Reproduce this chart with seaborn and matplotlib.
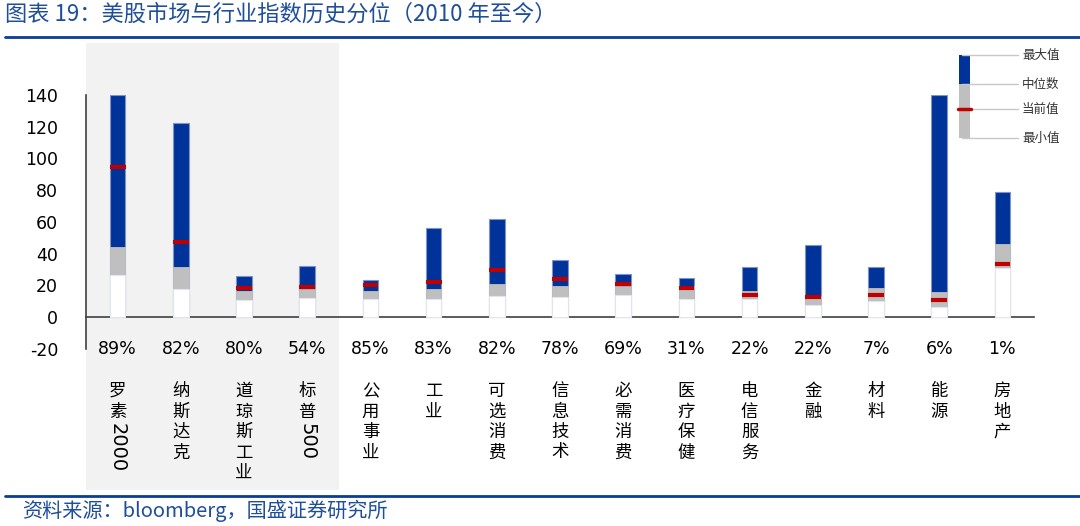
import re
import numpy as np
import pandas as pd
import matplotlib
matplotlib.use("Agg")
import matplotlib.pyplot as plt
import seaborn as sns
from matplotlib.transforms import blended_transform_factory
from matplotlib.patches import Rectangle
from matplotlib.lines import Line2D

# ---------------- data ----------------
categories = ['罗素2000', '纳斯达克', '道琼斯工业', '标普500', '公用事业', '工业', '可选消费',
              '信息技术', '必需消费', '医疗保健', '电信服务', '金融', '材料', '能源', '房地产']
percentiles = ['89%', '82%', '80%', '54%', '85%', '83%', '82%', '78%', '69%', '31%',
               '22%', '22%', '7%', '6%', '1%']
max_vals = [140.3, 122.4, 26.2, 32.1, 23.5, 56.0, 61.9, 36.3, 27.5, 24.9, 31.5, 45.3, 31.5, 140.3, 78.6]
median_vals = [44.0, 31.9, 16.4, 17.6, 16.6, 18.0, 21.0, 19.5, 19.7, 19.9, 16.6, 13.6, 18.6, 15.9, 46.2]
min_vals = [26.6, 18.0, 10.9, 12.4, 11.7, 11.7, 13.4, 12.6, 13.9, 11.7, 11.3, 7.7, 10.5, 6.3, 30.9]
current_vals = [94.5, 47.4, 18.7, 18.9, 20.1, 22.2, 29.8, 23.9, 21.2, 18.2, 14.2, 12.8, 13.9, 10.9, 33.6]
y_ticks = [-20, 0, 20, 40, 60, 80, 100, 120, 140]
legend_labels = ['最大值', '中位数', '当前值', '最小值']
title = '图表 19：美股市场与行业指数历史分位（2010 年至今）'
source = '资料来源：bloomberg，国盛证券研究所'

df = pd.DataFrame({'name': categories, 'max': max_vals, 'median': median_vals,
                   'min': min_vals, 'current': current_vals})

BLUE = '#003399'
GRAY = '#BFBFBF'
RED = '#C00000'
TITLE_BLUE = '#1F4E9A'
LINE_BLUE = '#0A3D96'

sns.set_style('white')
plt.rcParams['font.family'] = ['DejaVu Sans', 'Noto Sans CJK SC']
CJK = ['Noto Sans CJK SC', 'DejaVu Sans']

W, H = 1080, 526
fig = plt.figure(figsize=(W / 100, H / 100), dpi=100)
fx = lambda px: px / W
fy = lambda py: 1 - py / H

ax = fig.add_axes([fx(86), fy(349), fx(1034) - fx(86), fy(95) - fy(349)])
ax.set_facecolor('white')

# layered bars: blue (0..max), gray (0..median), white (0..min)
sns.barplot(data=df, x='name', y='max', color=BLUE, width=0.25, saturation=1,
            errorbar=None, edgecolor='#7F93C8', linewidth=0.8, ax=ax, zorder=2)
sns.barplot(data=df, x='name', y='median', color=GRAY, width=0.25, saturation=1,
            errorbar=None, edgecolor=GRAY, linewidth=0.6, ax=ax, zorder=3)
sns.barplot(data=df, x='name', y='min', color='white', width=0.25, saturation=1,
            errorbar=None, edgecolor='#E2E5F0', linewidth=0.8, ax=ax, zorder=4)
xpos = np.arange(len(categories))
ax.hlines(df['current'], xpos - 0.125, xpos + 0.125, colors=RED, lw=3, zorder=5)

tr = blended_transform_factory(ax.transData, fig.transFigure)
# shaded region for broad indices
ax.add_patch(Rectangle((-0.5, fy(490)), 4, fy(43) - fy(490), transform=tr,
                       facecolor='#F2F2F2', edgecolor='none', zorder=0, clip_on=False))

ax.set_xlim(-0.5, len(categories) - 0.5)
ax.set_ylim(-20, 140)
ax.set_xlabel('')
ax.set_ylabel('')

for s in ['top', 'right']:
    ax.spines[s].set_visible(False)
ax.spines['left'].set_color('#404040')
ax.spines['left'].set_linewidth(1.2)
ax.spines['bottom'].set_color('#404040')
ax.spines['bottom'].set_linewidth(1.2)
ax.spines['bottom'].set_position(('data', 0))

ax.set_yticks(y_ticks)
ax.set_yticklabels([str(v) for v in y_ticks])
ax.tick_params(axis='y', length=0, pad=20, labelsize=12.5, labelcolor='black')
ax.tick_params(axis='x', which='major', length=0, labelbottom=False)
ax.set_xticks(np.arange(len(categories)) + 0.5, minor=True)
ax.tick_params(axis='x', which='minor', direction='in', length=5, width=1.2, color='#404040')

# percentile labels
for i, p in enumerate(percentiles):
    ax.text(i, -20, p, ha='center', va='center', fontsize=12.5, color='black')

# vertical category labels
for i, name in enumerate(categories):
    y = 382
    for tok in re.findall(r'[0-9]+|.', name):
        if tok.isdigit():
            ax.text(i, fy(y), tok, rotation=-90, ha='center', va='top', fontsize=14,
                    transform=tr, color='black')
            y += len(tok) * 11 + 4
        else:
            ax.text(i, fy(y), tok, ha='center', va='top', fontsize=12.5, family=CJK,
                    transform=tr, color='black')
            y += 20.5

# title and rules
fig.text(fx(5), fy(14), title, ha='left', va='center', fontsize=16, color=TITLE_BLUE, family=CJK)
fig.add_artist(Line2D([fx(5), 1], [fy(37), fy(37)], transform=fig.transFigure, color=LINE_BLUE, lw=2))
fig.add_artist(Line2D([fx(5), 1], [fy(496), fy(496)], transform=fig.transFigure, color=LINE_BLUE, lw=2))
fig.text(fx(22), fy(511), source, ha='left', va='center', fontsize=14.5, color=TITLE_BLUE, family=CJK)

# legend
leg_y = [55, 84, 109, 138]
for yy in leg_y:
    fig.add_artist(Line2D([fx(962), fx(1018)], [fy(yy), fy(yy)], transform=fig.transFigure,
                          color='#C8C8C8', lw=1))
fig.add_artist(Rectangle((fx(959), fy(138)), fx(970) - fx(959), fy(84) - fy(138),
                         transform=fig.transFigure, facecolor=GRAY, edgecolor='none'))
fig.add_artist(Rectangle((fx(959), fy(84)), fx(970) - fx(959), fy(55) - fy(84),
                         transform=fig.transFigure, facecolor=BLUE, edgecolor='none'))
fig.add_artist(Line2D([fx(958), fx(971)], [fy(109), fy(109)], transform=fig.transFigure,
                      color=RED, lw=2.5))
for yy, lab in zip(leg_y, legend_labels):
    fig.text(fx(1022), fy(yy), lab, ha='left', va='center', fontsize=9, color='#333333', family=CJK)

fig.savefig('out.png', dpi=100, facecolor='white')
